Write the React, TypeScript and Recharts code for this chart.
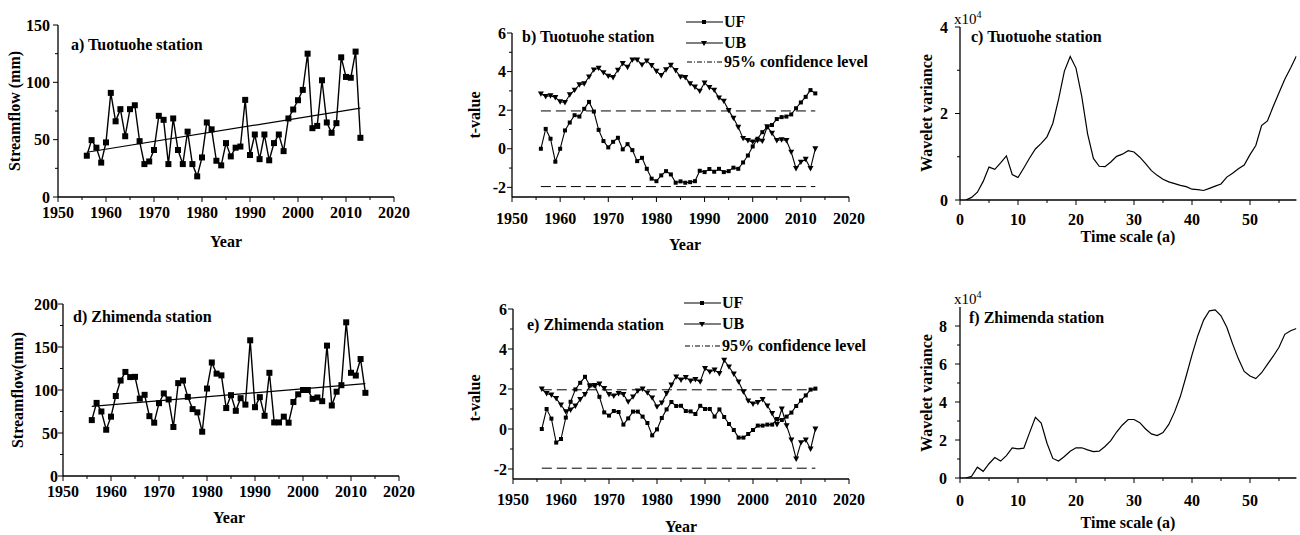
import React from "react";
import { LineChart, Line, XAxis, YAxis, ReferenceLine } from "recharts";

const FONT = '"Liberation Serif", "Times New Roman", serif';
const AXIS = { stroke: "#000", strokeWidth: 1.3 };

// hydrological years 1956-2013
const years = [
  1956, 1957, 1958, 1959, 1960, 1961, 1962, 1963, 1964, 1965,
  1966, 1967, 1968, 1969, 1970, 1971, 1972, 1973, 1974, 1975,
  1976, 1977, 1978, 1979, 1980, 1981, 1982, 1983, 1984, 1985,
  1986, 1987, 1988, 1989, 1990, 1991, 1992, 1993, 1994, 1995,
  1996, 1997, 1998, 1999, 2000, 2001, 2002, 2003, 2004, 2005,
  2006, 2007, 2008, 2009, 2010, 2011, 2012, 2013,
];

// wavelet time scales (a)
const scales = [
  1, 2, 3, 4, 5, 6, 7, 8, 9, 10,
  11, 12, 13, 14, 15, 16, 17, 18, 19, 20,
  21, 22, 23, 24, 25, 26, 27, 28, 29, 30,
  31, 32, 33, 34, 35, 36, 37, 38, 39, 40,
  41, 42, 43, 44, 45, 46, 47, 48, 49, 50,
  51, 52, 53, 54, 55, 56, 57, 58,
];

const yearTicks = [1950, 1955, 1960, 1965, 1970, 1975, 1980, 1985, 1990, 1995, 2000, 2005, 2010, 2015, 2020];
const scaleTicks = [0, 5, 10, 15, 20, 25, 30, 35, 40, 45, 50, 55];
const flowTicksA = [0, 25, 50, 75, 100, 125, 150];
const flowTicksD = [0, 25, 50, 75, 100, 125, 150, 175, 200];
const tTicks = [-2, -1, 0, 1, 2, 3, 4, 5, 6];
const wavTicksC = [0, 1, 2, 3, 4];
const wavTicksF = [0, 1, 2, 3, 4, 5, 6, 7, 8];

const confidence = 1.96;

// Tuotuohe
const tuotuoheFlow = [
  36, 49.6, 43, 30, 47.6, 90.8, 66, 76.6, 53, 76.6,
  80, 48.7, 28.7, 31, 41, 70.8, 67.3, 28.7, 68.5, 41,
  28.7, 57, 28.7, 18, 34.5, 65, 59, 31.6, 27.6, 47,
  35.4, 43, 44, 84.7, 36.6, 54.5, 33, 54.5, 32, 47,
  54.5, 40, 68.5, 76.3, 84.4, 93.4, 125, 60, 62, 101.8,
  65, 56, 64.4, 121.8, 104.7, 104, 126.8, 51.6,
];
const tuotuoheTrend = [39, 77.5];
const tuotuoheUF = [
  0, 1.03, 0.52, -0.67, 0, 0.95, 1.36, 1.74, 1.67, 2.07,
  2.43, 1.93, 0.98, 0.4, 0.07, 0.36, 0.57, -0.03, 0.24, -0.07,
  -0.64, -0.47, -1.04, -1.55, -1.68, -1.38, -1.16, -1.33, -1.76, -1.69,
  -1.76, -1.73, -1.68, -1.14, -1.21, -1.05, -1.19, -1.04, -1.21, -1.16,
  -0.98, -1.04, -0.71, -0.35, 0.12, 0.52, 0.86, 1.12, 1.23, 1.54,
  1.64, 1.67, 1.78, 2.1, 2.4, 2.69, 3.04, 2.87,
];
const tuotuoheUB = [
  2.85, 2.71, 2.75, 2.66, 2.44, 2.4, 2.8, 3.04, 3.32, 3.37,
  3.73, 4.09, 4.18, 3.95, 3.77, 3.7, 4.08, 4.42, 4.23, 4.61,
  4.61, 4.35, 4.56, 4.32, 4.02, 3.8, 4.1, 4.33, 4.06, 3.73,
  3.7, 3.38, 3.2, 2.99, 3.42, 3.18, 3.04, 2.64, 2.47, 1.99,
  1.59, 1.12, 0.54, 0.43, 0.36, 0.43, 0.4, 1.14, 0.81, 0.43,
  0.47, 0.43, -0.17, -1.02, -0.69, -0.54, -1.02, 0,
];
const tuotuoheWavelet = [
  0, 0.06, 0.18, 0.43, 0.76, 0.71, 0.86, 1.02, 0.59, 0.52,
  0.74, 0.97, 1.18, 1.31, 1.46, 1.77, 2.33, 2.98, 3.32, 3.05,
  2.39, 1.53, 0.96, 0.78, 0.77, 0.88, 1.01, 1.06, 1.14, 1.11,
  0.99, 0.84, 0.68, 0.57, 0.48, 0.42, 0.38, 0.34, 0.31, 0.25,
  0.24, 0.22, 0.27, 0.32, 0.37, 0.53, 0.62, 0.72, 0.81, 1.05,
  1.26, 1.72, 1.83, 2.16, 2.48, 2.79, 3.05, 3.33,
];

// Zhimenda
const zhimendaFlow = [
  65, 85, 75, 53.8, 69, 93, 111, 121, 115, 115.3,
  90, 94.4, 69.6, 62, 84.7, 96, 89, 57, 108, 111,
  92, 77.8, 74, 51.5, 101.7, 132, 119, 117, 79, 94,
  75.8, 90.5, 83, 157.8, 80, 91.7, 70, 120, 62.3, 62.3,
  69, 62, 86, 95, 100, 100, 89.7, 91.3, 87, 151.6,
  82, 98, 105.6, 178.7, 120, 116.8, 136, 96.7,
];
const zhimendaTrend = [81, 107.5];
const zhimendaUF = [
  0, 1.0, 0.52, -0.68, -0.5, 0.57, 1.36, 1.98, 2.31, 2.61,
  2.18, 2.18, 1.61, 0.83, 0.67, 0.9, 0.85, 0.22, 0.53, 0.87,
  0.87, 0.62, 0.3, -0.32, -0.02, 0.55, 0.98, 1.35, 1.15, 1.16,
  0.9, 0.88, 0.75, 1.16, 1.0, 1.0, 0.62, 0.98, 0.6, 0.25,
  -0.05, -0.43, -0.43, -0.25, -0.05, 0.17, 0.17, 0.22, 0.22, 0.5,
  0.45, 0.62, 0.82, 1.15, 1.42, 1.68, 1.97, 2.02,
];
const zhimendaUB = [
  2.0, 1.78, 1.7, 1.53, 1.2, 0.87, 0.95, 1.15, 1.48, 1.73,
  2.15, 2.18, 2.25, 2.03, 1.73, 1.65, 1.78, 1.73, 1.36, 1.61,
  1.9, 2.0, 1.81, 1.56, 1.11, 1.31, 1.78, 2.2, 2.61, 2.45,
  2.58, 2.4, 2.48, 2.36, 3.03, 2.86, 2.95, 2.78, 3.44, 3.11,
  2.75, 2.36, 1.86, 1.41, 1.25, 1.33, 1.48, 1.16, 0.78, 0.23,
  1.0, 0.17, -0.55, -1.5, -0.68, -0.55, -1.0, 0,
];
const zhimendaWavelet = [
  0, 0.09, 0.57, 0.35, 0.75, 1.08, 0.89, 1.18, 1.59, 1.53,
  1.57, 2.39, 3.19, 2.89, 1.83, 1.03, 0.89, 1.13, 1.41, 1.59,
  1.59, 1.48, 1.39, 1.41, 1.66, 1.97, 2.42, 2.79, 3.08, 3.08,
  2.91, 2.58, 2.32, 2.23, 2.39, 2.82, 3.48, 4.3, 5.37, 6.48,
  7.49, 8.31, 8.8, 8.85, 8.54, 7.93, 7.06, 6.27, 5.61, 5.37,
  5.23, 5.54, 5.98, 6.41, 6.88, 7.56, 7.75, 7.87,
];

const last = years.length - 1;
const flowRows = (vals: number[], trend: number[]) =>
  years.map((x, i) => ({ x, v: vals[i], trend: i === 0 ? trend[0] : i === last ? trend[1] : null }));
const mkRows = (uf: number[], ub: number[]) => years.map((x, i) => ({ x, uf: uf[i], ub: ub[i] }));
const wavRows = (vals: number[]) => scales.map((x, i) => ({ x, v: vals[i] }));

const square = (size: number) => (p: any) =>
  p.cx == null || p.cy == null ? null : (
    <rect key={`s${p.index}`} x={p.cx - size / 2} y={p.cy - size / 2} width={size} height={size} fill="#000" />
  );

const triangle = (size: number) => (p: any) =>
  p.cx == null || p.cy == null ? null : (
    <polygon
      key={`t${p.index}`}
      points={`${p.cx - size / 2},${p.cy - size * 0.4} ${p.cx + size / 2},${p.cy - size * 0.4} ${p.cx},${p.cy + size * 0.5}`}
      fill="#000"
    />
  );

const makeXTick = (step: number, gap: number) => (props: any) => {
  const { x, y, payload } = props;
  const major = payload.value % step === 0;
  return (
    <g>
      <line x1={x} x2={x} y1={y} y2={y + (major ? 5 : 3)} stroke="#000" strokeWidth={1} />
      {major && (
        <text x={x} y={y + gap} dy="0.35em" textAnchor="middle" fontFamily={FONT} fontWeight="bold" fontSize={16} fill="#000">
          {payload.value}
        </text>
      )}
    </g>
  );
};

const makeYTick = (step: number, gap: number) => (props: any) => {
  const { x, y, payload } = props;
  const major = payload.value % step === 0;
  return (
    <g>
      <line x1={x} x2={x - (major ? 5 : 3)} y1={y} y2={y} stroke="#000" strokeWidth={1} />
      {major && (
        <text x={x - gap} y={y} dy="0.35em" textAnchor="end" fontFamily={FONT} fontWeight="bold" fontSize={16} fill="#000">
          {payload.value}
        </text>
      )}
    </g>
  );
};

type Box = { x: number; y: number; w: number; h: number };
type Plot = { x0: number; y0: number; x1: number; y1: number };

function Panel(props: {
  box: Box;
  plot: Plot;
  data: any[];
  xDomain: number[];
  xTicks: number[];
  xStep: number;
  xGap: number;
  yDomain: number[];
  yTicks: number[];
  yStep: number;
  yGap: number;
  children: React.ReactNode;
}) {
  const { box, plot } = props;
  // axes are 1px thick so they still render; plot area lands on plot.x0/y1
  const margin = {
    left: plot.x0 - box.x - 1,
    top: plot.y0 - box.y,
    right: box.x + box.w - plot.x1,
    bottom: box.y + box.h - plot.y1 - 1,
  };
  return (
    <div style={{ position: "absolute", left: box.x, top: box.y, width: box.w, height: box.h }}>
      <LineChart width={box.w} height={box.h} data={props.data} margin={margin}>
        <XAxis
          dataKey="x"
          type="number"
          domain={props.xDomain}
          ticks={props.xTicks}
          interval={0}
          height={1}
          tickSize={0}
          tickMargin={0}
          tickLine={false}
          axisLine={AXIS}
          tick={makeXTick(props.xStep, props.xGap)}
          allowDataOverflow
        />
        <YAxis
          type="number"
          domain={props.yDomain}
          ticks={props.yTicks}
          interval={0}
          width={1}
          tickSize={0}
          tickMargin={0}
          tickLine={false}
          axisLine={AXIS}
          tick={makeYTick(props.yStep, props.yGap)}
          allowDataOverflow
        />
        {props.children}
      </LineChart>
    </div>
  );
}

function Txt(props: {
  x: number;
  y: number;
  children: React.ReactNode;
  rotate?: boolean;
  left?: boolean;
  size?: number;
  bold?: boolean;
}) {
  const tf = props.left ? "translate(0,-50%)" : props.rotate ? "translate(-50%,-50%) rotate(-90deg)" : "translate(-50%,-50%)";
  return (
    <div
      style={{
        position: "absolute",
        left: props.x,
        top: props.y,
        transform: tf,
        whiteSpace: "nowrap",
        fontFamily: FONT,
        fontWeight: props.bold === false ? "normal" : "bold",
        fontSize: props.size ?? 16,
        lineHeight: 1,
        color: "#000",
      }}
    >
      {props.children}
    </div>
  );
}

function MkLegend({ x, ys }: { x: number; ys: number[] }) {
  const rows = [
    { label: "UF", mark: "square" },
    { label: "UB", mark: "tri" },
    { label: "95% confidence level", mark: "dash" },
  ];
  return (
    <>
      {rows.map((r, i) => (
        <div key={r.label} style={{ position: "absolute", left: x, top: ys[i] - 8, height: 16, display: "flex", alignItems: "center" }}>
          <svg width={37} height={16}>
            {r.mark === "dash" ? (
              <line x1={1} x2={36} y1={8} y2={8} stroke="#000" strokeWidth={1} strokeDasharray="5 2 1 2" />
            ) : (
              <line x1={0} x2={37} y1={8} y2={8} stroke="#000" strokeWidth={1.2} />
            )}
            {r.mark === "square" && <rect x={16} y={6} width={4} height={4} fill="#000" />}
            {r.mark === "tri" && <polygon points="15,6 21,6 18,11" fill="#000" />}
          </svg>
          <span style={{ fontFamily: FONT, fontWeight: "bold", fontSize: 16, lineHeight: 1, marginLeft: 1 }}>{r.label}</span>
        </div>
      ))}
    </>
  );
}

const firstYear = years[0];
const lastYear = years[last];

export default function App() {
  const aBox = { x: 0, y: 0, w: 430, h: 260 };
  const bBox = { x: 430, y: 0, w: 440, h: 260 };
  const cBox = { x: 880, y: 0, w: 420, h: 260 };
  const dBox = { x: 0, y: 260, w: 430, h: 275 };
  const eBox = { x: 430, y: 260, w: 440, h: 275 };
  const fBox = { x: 880, y: 260, w: 420, h: 275 };

  return (
    <div style={{ position: "relative", width: 1300, height: 535, background: "#fff", overflow: "hidden" }}>
      <style>{`body{margin:0;}`}</style>

      {/* a) streamflow Tuotuohe */}
      <Panel box={aBox} plot={{ x0: 58, y0: 25, x1: 394, y1: 197 }} data={flowRows(tuotuoheFlow, tuotuoheTrend)}
        xDomain={[1950, 2020]} xTicks={yearTicks} xStep={10} xGap={15}
        yDomain={[0, 150]} yTicks={flowTicksA} yStep={50} yGap={8}>
        <Line dataKey="trend" stroke="#000" strokeWidth={1.2} dot={false} connectNulls isAnimationActive={false} />
        <Line dataKey="v" stroke="#000" strokeWidth={1.4} dot={square(6)} isAnimationActive={false} />
      </Panel>
      <Txt x={71} y={45} left>a) Tuotuohe station</Txt>
      <Txt x={15} y={111} rotate>Streamflow (mm)</Txt>
      <Txt x={226} y={242}>Year</Txt>

      {/* b) M-K Tuotuohe */}
      <Panel box={bBox} plot={{ x0: 512, y0: 33, x1: 849, y1: 197 }} data={mkRows(tuotuoheUF, tuotuoheUB)}
        xDomain={[1950, 2020]} xTicks={yearTicks} xStep={10} xGap={21}
        yDomain={[-2.5, 6]} yTicks={tTicks} yStep={2} yGap={6}>
        <ReferenceLine segment={[{ x: firstYear, y: confidence }, { x: lastYear, y: confidence }]} stroke="#000" strokeWidth={1} strokeDasharray="10 5" />
        <ReferenceLine segment={[{ x: firstYear, y: -confidence }, { x: lastYear, y: -confidence }]} stroke="#000" strokeWidth={1} strokeDasharray="10 5" />
        <Line dataKey="uf" stroke="#000" strokeWidth={1.1} dot={square(4)} isAnimationActive={false} />
        <Line dataKey="ub" stroke="#000" strokeWidth={1.1} dot={triangle(6)} isAnimationActive={false} />
      </Panel>
      <Txt x={522} y={37} left>b) Tuotuohe station</Txt>
      <Txt x={475} y={115} rotate>t-value</Txt>
      <Txt x={685} y={245}>Year</Txt>
      <MkLegend x={686} ys={[22, 43, 62]} />

      {/* c) wavelet Tuotuohe */}
      <Panel box={cBox} plot={{ x0: 960, y0: 27, x1: 1296.4, y1: 200 }} data={wavRows(tuotuoheWavelet)}
        xDomain={[0, 58]} xTicks={scaleTicks} xStep={10} xGap={19}
        yDomain={[0, 4]} yTicks={wavTicksC} yStep={2} yGap={12}>
        <Line dataKey="v" stroke="#000" strokeWidth={1.2} dot={false} isAnimationActive={false} />
      </Panel>
      <Txt x={971} y={37} left>c) Tuotuohe station</Txt>
      <Txt x={927} y={113} rotate>Wavelet variance</Txt>
      <Txt x={1128} y={237}>Time scale (a)</Txt>
      <Txt x={954} y={18} left bold={false} size={15}>
        x10<sup style={{ fontSize: 10, verticalAlign: "6px" }}>4</sup>
      </Txt>

      {/* d) streamflow Zhimenda */}
      <Panel box={dBox} plot={{ x0: 63, y0: 304, x1: 399, y1: 476 }} data={flowRows(zhimendaFlow, zhimendaTrend)}
        xDomain={[1950, 2020]} xTicks={yearTicks} xStep={10} xGap={15}
        yDomain={[0, 200]} yTicks={flowTicksD} yStep={50} yGap={5}>
        <Line dataKey="trend" stroke="#000" strokeWidth={1.2} dot={false} connectNulls isAnimationActive={false} />
        <Line dataKey="v" stroke="#000" strokeWidth={1.4} dot={square(6)} isAnimationActive={false} />
      </Panel>
      <Txt x={73} y={317} left>d) Zhimenda station</Txt>
      <Txt x={18} y={390} rotate>Streamflow(mm)</Txt>
      <Txt x={229} y={518}>Year</Txt>

      {/* e) M-K Zhimenda */}
      <Panel box={eBox} plot={{ x0: 513, y0: 309, x1: 849, y1: 479 }} data={mkRows(zhimendaUF, zhimendaUB)}
        xDomain={[1950, 2020]} xTicks={yearTicks} xStep={10} xGap={20}
        yDomain={[-2.5, 6]} yTicks={tTicks} yStep={2} yGap={6}>
        <ReferenceLine segment={[{ x: firstYear, y: confidence }, { x: lastYear, y: confidence }]} stroke="#000" strokeWidth={1} strokeDasharray="10 5" />
        <ReferenceLine segment={[{ x: firstYear, y: -confidence }, { x: lastYear, y: -confidence }]} stroke="#000" strokeWidth={1} strokeDasharray="10 5" />
        <Line dataKey="uf" stroke="#000" strokeWidth={1.1} dot={square(4)} isAnimationActive={false} />
        <Line dataKey="ub" stroke="#000" strokeWidth={1.1} dot={triangle(6)} isAnimationActive={false} />
      </Panel>
      <Txt x={527} y={325} left>e) Zhimenda station</Txt>
      <Txt x={475} y={398} rotate>t-value</Txt>
      <Txt x={681} y={527}>Year</Txt>
      <MkLegend x={684} ys={[303, 324, 346]} />

      {/* f) wavelet Zhimenda */}
      <Panel box={fBox} plot={{ x0: 960, y0: 307, x1: 1296.4, y1: 478 }} data={wavRows(zhimendaWavelet)}
        xDomain={[0, 58]} xTicks={scaleTicks} xStep={10} xGap={22}
        yDomain={[0, 9]} yTicks={wavTicksF} yStep={2} yGap={13}>
        <Line dataKey="v" stroke="#000" strokeWidth={1.2} dot={false} isAnimationActive={false} />
      </Panel>
      <Txt x={969} y={318} left>f) Zhimenda station</Txt>
      <Txt x={927} y={393} rotate>Wavelet variance</Txt>
      <Txt x={1128} y={523}>Time scale (a)</Txt>
      <Txt x={954} y={298} left bold={false} size={15}>
        x10<sup style={{ fontSize: 10, verticalAlign: "6px" }}>4</sup>
      </Txt>
    </div>
  );
}
